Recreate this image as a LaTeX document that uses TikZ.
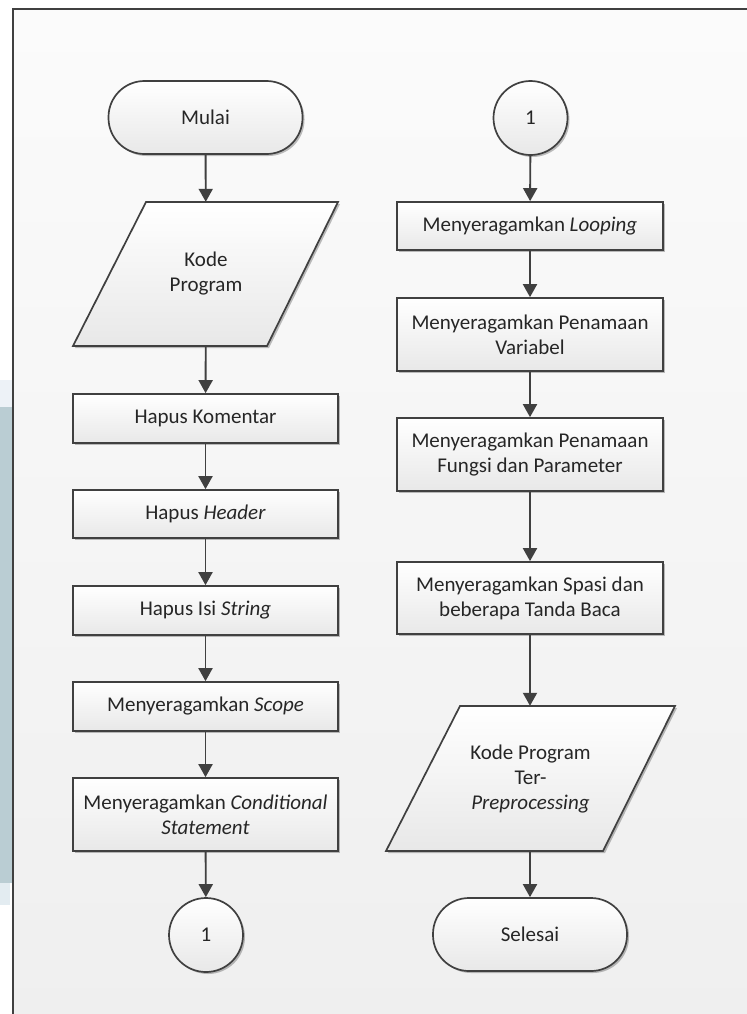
\documentclass[tikz,border=0pt]{standalone}
\usepackage{fontspec}
\setmainfont{Carlito}
\usetikzlibrary{arrows.meta,calc,shadows}
\definecolor{ln}{HTML}{404040}
\definecolor{txt}{HTML}{262626}
\definecolor{boxb}{HTML}{E8E8E8}
\definecolor{bgtop}{HTML}{FBFBFB}
\definecolor{bgbot}{HTML}{EFEFEF}
\definecolor{stripblue}{HTML}{BACDD3}
\definecolor{striplight}{HTML}{EDF2F7}
\definecolor{striplight2}{HTML}{E3ECF1}
\newcommand{\fsz}{\fontsize{21bp}{25bp}\selectfont}
\begin{document}
\begin{tikzpicture}[x=1bp,y=-1bp,
  shp/.style={draw=ln, line width=1.7bp, top color=white, bottom color=boxb,
    drop shadow={shadow xshift=2bp, shadow yshift=-2bp, opacity=0.25, fill=black}},
  lbl/.style={font=\fsz, text=txt, align=center, inner sep=0pt},
  proc/.style={shp, lbl, rectangle, minimum width=265bp},
  term/.style={shp, lbl, rectangle, rounded corners=36bp, minimum width=194bp, minimum height=73bp},
  conn/.style={shp, lbl, circle, minimum size=74bp},
  iotext/.style={lbl, draw=none, fill=none, rectangle, minimum width=192bp, minimum height=144bp},
  arr/.style={draw=ln, line width=1.9bp, -{Triangle[length=13bp,width=14bp]}}
]
\useasboundingbox (0,0) rectangle (747,1014);
\clip (0,0) rectangle (747,1014);
% left strip
\fill[white] (0,0) rectangle (747,1014);
\fill[striplight] (0,380) rectangle (12,407);
\fill[stripblue] (0,407) rectangle (12,883);
\fill[striplight2] (0,883) rectangle (10,905);
% frame
\fill[top color=bgtop, bottom color=bgbot] (13,9) rectangle (760,1030);
\draw[ln, line width=2bp] (13,1030) -- (13,9) -- (760,9);

% left column
\node[term] (mulai) at (205.5,117.5) {Mulai};
\path[shp] (146,202) -- (338,202) -- (267,346) -- (73,346) -- cycle;
\node[iotext] (kode) at (206,274) {Kode\\Program};
\node[proc, minimum height=49bp] (komentar) at (205.5,418.5) {Hapus Komentar};
\node[proc, minimum height=48bp] (header) at (205.5,514) {Hapus \textit{Header}};
\node[proc, minimum height=49bp] (string) at (205.5,610.5) {Hapus Isi \textit{String}};
\node[proc, minimum height=49bp] (scope) at (205.5,706.5) {Menyeragamkan \textit{Scope}};
\node[proc, minimum height=73bp] (cond) at (205.5,814.5) {Menyeragamkan \textit{Conditional}\\\textit{Statement}};
\node[conn] (c1) at (206,935) {1};

% right column
\node[conn] (c2) at (530.5,118) {1};
\node[proc, minimum width=266bp, minimum height=48bp] (looping) at (530,226) {Menyeragamkan \textit{Looping}};
\node[proc, minimum width=266bp, minimum height=73bp] (variabel) at (530,334.5) {Menyeragamkan Penamaan\\Variabel};
\node[proc, minimum width=266bp, minimum height=73bp] (fungsi) at (530,454.5) {Menyeragamkan Penamaan\\Fungsi dan Parameter};
\node[proc, minimum width=266bp, minimum height=72bp] (spasi) at (530,598) {Menyeragamkan Spasi dan\\beberapa Tanda Baca};
\path[shp] (460,706) -- (675,706) -- (603,851) -- (386,851) -- cycle;
\node[iotext, minimum width=215bp, minimum height=145bp] (kode2) at (530.5,778.5) {Kode Program\\Ter-\\\textit{Preprocessing}};
\node[term] (selesai) at (530,934.5) {Selesai};

% connectors
\draw[arr] (mulai) -- (kode);
\draw[arr] (kode) -- (komentar);
\draw[arr] (komentar) -- (header);
\draw[arr] (header) -- (string);
\draw[arr] (string) -- (scope);
\draw[arr] (scope) -- (cond);
\draw[arr] (cond) -- (c1);
\draw[arr] (c2) -- (looping);
\draw[arr] (looping) -- (variabel);
\draw[arr] (variabel) -- (fungsi);
\draw[arr] (fungsi) -- (spasi);
\draw[arr] (spasi.south) -- (spasi.south |- kode2.north);
\draw[arr] (kode2.south -| selesai.north) -- (selesai);
\end{tikzpicture}
\end{document}
